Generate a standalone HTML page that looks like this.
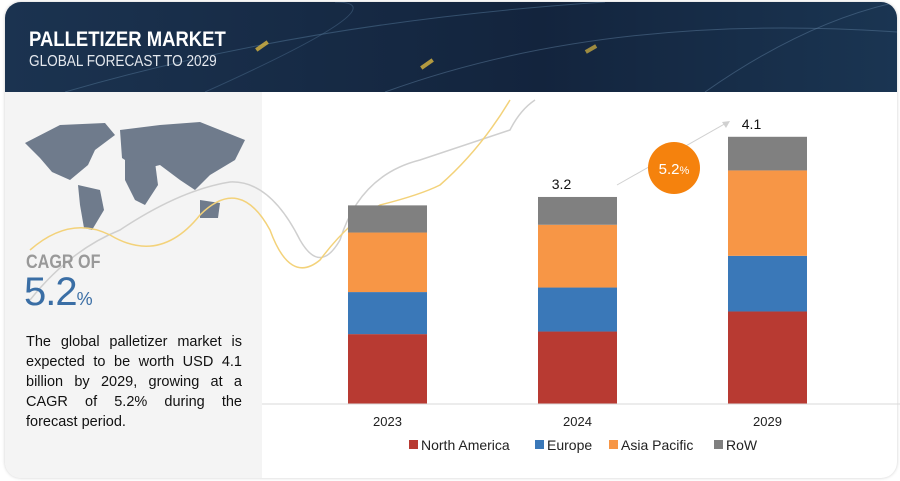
<!DOCTYPE html>
<html><head><meta charset="utf-8"><style>
body{margin:0;width:900px;height:481px;background:#fff;overflow:hidden;font-family:"Liberation Sans",sans-serif;position:relative}
.card{position:absolute;left:5px;top:2px;width:892px;height:476px;border-radius:16px;background:#fff;box-shadow:0 0 3px #ccc;overflow:hidden}
.hdr{position:absolute;left:0;top:0;width:892px;height:90px;background:linear-gradient(90deg,#1b3350,#13243d 60%,#1a3552)}
.left{position:absolute;left:0;top:90px;width:257px;height:386px;background:#f4f4f4}
</style></head><body>
<div class="card">
<div class="hdr">
<svg width="892" height="90" style="position:absolute;left:0;top:0">
<path d="M60 90 Q300 20 600 0" stroke="#4a6a8a" stroke-width="1" fill="none" opacity=".6"/>
<path d="M200 90 Q400 0 330 0" stroke="#4a6a8a" stroke-width="1" fill="none" opacity=".5"/>
<path d="M380 90 Q600 10 892 30" stroke="#5a7a9a" stroke-width="1" fill="none" opacity=".5"/>
<path d="M700 90 Q800 20 892 0" stroke="#5a7a9a" stroke-width="1" fill="none" opacity=".5"/>
<rect x="250" y="42" width="14" height="4" fill="#d9b640" transform="rotate(-35 257 44)" opacity=".8"/>
<rect x="415" y="60" width="14" height="4" fill="#d9b640" transform="rotate(-35 422 62)" opacity=".8"/>
<rect x="580" y="45" width="12" height="4" fill="#d9b640" transform="rotate(-30 586 47)" opacity=".7"/>
</svg>
<div style="position:absolute;left:24px;top:26px;color:#fff;font-weight:bold;font-size:21px;transform:scaleX(0.88);transform-origin:left;white-space:nowrap">PALLETIZER MARKET</div>
<div style="position:absolute;left:24px;top:51px;color:#e4e8ee;font-size:16px;transform:scaleX(0.85);transform-origin:left;white-space:nowrap">GLOBAL FORECAST TO 2029</div>
</div>
<div class="left"></div>
</div>
<svg width="900" height="481" style="position:absolute;left:0;top:0">
<g fill="#6f7b8c">
<path d="M25 143 L60 125 L105 123 L115 135 L95 150 L88 165 L70 180 L52 172 L40 158 Z"/>
<path d="M78 185 L100 190 L104 210 L92 230 L84 228 L80 205 Z"/>
<path d="M120 130 L160 125 L200 122 L245 140 L235 160 L210 175 L195 190 L180 180 L160 165 L140 170 L122 158 Z"/>
<path d="M125 160 L155 162 L158 185 L145 205 L135 200 L125 180 Z"/>
<path d="M200 200 L220 203 L218 218 L200 218 Z"/>
</g>
<path d="M30 300 Q70 250 120 230 Q180 190 230 182 Q270 180 300 240 Q320 275 340 240 Q360 175 420 160 Q480 140 510 130 Q520 110 535 100" stroke="#cfcfcf" stroke-width="1.5" fill="none"/>
<path d="M30 250 Q70 215 110 235 Q160 265 200 215 Q240 175 270 230 Q290 285 320 260 Q350 220 380 205 Q420 195 440 185 Q480 150 510 100" stroke="#f3d27a" stroke-width="1.5" fill="none"/>
<g id="bars"></g>
<line x1="262" y1="404" x2="900" y2="404" stroke="#d9d9d9"/>
<line x1="617" y1="185" x2="728" y2="122" stroke="#d0d0d0"/>
<polygon points="722,122 730,121 726,128" fill="#d0d0d0"/>
<circle cx="674" cy="168" r="26" fill="#f5820d"/>
<text x="674" y="174" fill="#fff" font-size="15" text-anchor="middle" font-family="Liberation Sans">5.2<tspan font-size="11">%</tspan></text>
<g id="legend" font-size="14" fill="#222"></g>
</svg>
<div style="position:absolute;left:26px;top:252px;color:#999;font-size:19px;font-weight:bold;transform:scaleX(0.85);transform-origin:left;white-space:nowrap">CAGR OF</div>
<div style="position:absolute;left:24px;top:270px;color:#3a6ea5;font-size:40px;letter-spacing:-1px;white-space:nowrap">5.2<span style="font-size:18px;letter-spacing:0">%</span></div>
<div style="position:absolute;left:26px;top:332px;width:216px;font-size:14.5px;line-height:20px;color:#111;text-align:justify">The global palletizer market is expected to be worth USD 4.1 billion by 2029, growing at a CAGR of 5.2% during the forecast period.</div>
<script>
const categories=["2023","2024","2029"];
const northAmerica=[1.08,1.12,1.43];
const europe=[0.65,0.68,0.86];
const asiaPacific=[0.92,0.97,1.32];
const row=[0.42,0.43,0.52];
const totalLabels=["","3.2","4.1"];
const seriesNames=["North America","Europe","Asia Pacific","RoW"];
const colors=["#b83a32","#3a78b8","#f79646","#808080"];
const NS="http://www.w3.org/2000/svg";
const baseY=404, scale=64.7, barW=79;
const xPos=i=>348+i*190;
const yPos=v=>baseY-v*scale;
const g=document.getElementById('bars');
const series=[northAmerica,europe,asiaPacific,row];
categories.forEach((c,i)=>{
  let acc=0;
  series.forEach((s,k)=>{
    const r=document.createElementNS(NS,'rect');
    r.setAttribute('x',xPos(i));r.setAttribute('width',barW);
    r.setAttribute('y',yPos(acc+s[i]));r.setAttribute('height',s[i]*scale);
    r.setAttribute('fill',colors[k]);
    
    
    g.appendChild(r);acc+=s[i];
  });
  const t=document.createElementNS(NS,'text');
  t.setAttribute('x',xPos(i)+barW/2);t.setAttribute('y',426);t.setAttribute('text-anchor','middle');
  t.setAttribute('font-size','13');t.setAttribute('fill','#222');t.textContent=c;
  
  
  g.appendChild(t);
  if(totalLabels[i]){
    const v=document.createElementNS(NS,'text');
    v.setAttribute('x',xPos(i)+barW/2-16);v.setAttribute('y',yPos(acc)-8);v.setAttribute('text-anchor','middle');
    v.setAttribute('font-size','14');v.setAttribute('fill','#111');v.textContent=totalLabels[i];
    
    
    g.appendChild(v);
  }
});
const lg=document.getElementById('legend');
const lx=[409,535,609,714];
seriesNames.forEach((n,k)=>{
  const r=document.createElementNS(NS,'rect');
  r.setAttribute('x',lx[k]);r.setAttribute('y',440);r.setAttribute('width',9);r.setAttribute('height',9);r.setAttribute('fill',colors[k]);
  
  
  lg.appendChild(r);
  const t=document.createElementNS(NS,'text');
  t.setAttribute('x',lx[k]+12);t.setAttribute('y',450);t.textContent=n;
  
  
  lg.appendChild(t);
});
</script>
</body></html>
